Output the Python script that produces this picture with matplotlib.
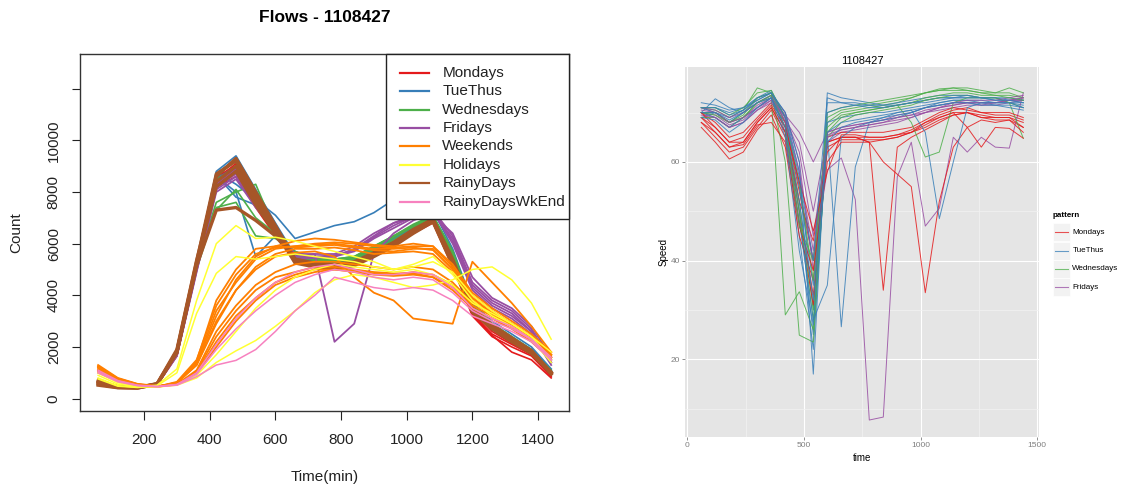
import matplotlib
matplotlib.use('Agg')
import matplotlib.pyplot as plt
from matplotlib.lines import Line2D
from matplotlib.patches import Rectangle
from matplotlib.ticker import FixedLocator

plt.rcParams['font.family'] = ['Liberation Sans', 'DejaVu Sans']

# ---------------- data ----------------
times = [60, 120, 180, 240, 300, 360, 420, 480, 540, 600, 660, 720,
         780, 840, 900, 960, 1020, 1080, 1140, 1200, 1260, 1320, 1380, 1440]

flow_labels = ['Mondays', 'TueThus', 'Wednesdays', 'Fridays', 'Weekends',
               'Holidays', 'RainyDays', 'RainyDaysWkEnd']

flow_mondays = [
    [620, 440, 410, 530, 1650, 5000, 8300, 8900, 7600, 6400, 5300, 5150, 5100, 5200, 5500, 5900, 6400, 6800, 5100, 3200, 2400, 2000, 1650, 850],
    [700, 460, 420, 550, 1750, 5150, 8500, 9100, 7800, 6600, 5400, 5250, 5200, 5300, 5650, 6050, 6550, 6950, 5300, 3300, 2500, 2100, 1700, 900],
    [760, 480, 430, 560, 1800, 5250, 8600, 9000, 7700, 6500, 5450, 5300, 5250, 5350, 5700, 6100, 6600, 7000, 5400, 3400, 2600, 2150, 1750, 950],
    [680, 450, 420, 540, 1700, 5050, 8200, 8600, 7400, 6300, 5350, 5200, 5150, 5250, 5550, 5950, 6450, 6850, 5200, 3250, 2450, 1800, 1500, 800],
]
flow_tuethus = [
    [660, 450, 420, 550, 1780, 5200, 8700, 9300, 8000, 6700, 5500, 5350, 5300, 5400, 5800, 6200, 6700, 7050, 5700, 3600, 2900, 2400, 1900, 1100],
    [720, 470, 440, 570, 1800, 5300, 8800, 9400, 8100, 6800, 5550, 5400, 5350, 5450, 5850, 6250, 6700, 7000, 5650, 3550, 2850, 2350, 1850, 1050],
    [700, 460, 430, 560, 1780, 5250, 8750, 8300, 7700, 7100, 6200, 6450, 6700, 6850, 7200, 7700, 7600, 7300, 5800, 3700, 3000, 2500, 2000, 1150],
    [690, 460, 430, 560, 1750, 5150, 8600, 8000, 5500, 6300, 5700, 5400, 5350, 5450, 5800, 6200, 6650, 7000, 5600, 3500, 2850, 2350, 1900, 1100],
    [640, 440, 410, 540, 1720, 5100, 8500, 9000, 7850, 6600, 5450, 5300, 5250, 5350, 5750, 6150, 6650, 7050, 5650, 3550, 2850, 2350, 1850, 1050],
    [700, 460, 430, 560, 1760, 5200, 8650, 7800, 7500, 6500, 5500, 5350, 5300, 5400, 5800, 6200, 6700, 7000, 5600, 3500, 2800, 2300, 1900, 1100],
]
flow_wednesdays = [
    [680, 460, 430, 550, 1760, 5150, 8650, 9200, 7900, 6700, 5500, 5400, 5400, 5500, 5900, 6300, 6750, 7100, 5700, 3600, 2900, 2400, 1900, 1050],
    [700, 470, 430, 560, 1800, 5200, 7600, 8000, 8300, 6500, 5600, 5350, 5350, 5450, 5850, 6250, 6650, 7000, 5600, 3500, 2800, 2300, 1850, 1100],
    [690, 450, 420, 550, 1700, 5000, 7400, 7600, 6300, 6200, 5700, 5400, 5300, 5400, 5750, 6150, 6550, 6950, 5500, 3400, 2700, 2250, 1800, 1000],
    [660, 450, 420, 540, 1720, 5100, 8500, 8900, 7800, 6600, 5500, 5350, 5350, 5450, 5850, 6250, 6700, 7050, 5650, 3550, 2850, 2350, 1850, 1050],
    [710, 470, 440, 560, 1780, 5200, 7300, 8100, 7000, 6400, 5500, 5400, 5400, 5500, 5900, 6300, 6700, 7050, 5700, 3600, 2900, 2350, 1850, 1050],
]
flow_fridays = [
    [700, 480, 440, 560, 1700, 5000, 8300, 8800, 7600, 6500, 5500, 5500, 5500, 5700, 6200, 6600, 7000, 7300, 6300, 4500, 3800, 3400, 2700, 1400],
    [650, 460, 420, 540, 1650, 4900, 8100, 8600, 7500, 6400, 5400, 5450, 5500, 5800, 6300, 6800, 7100, 7200, 6200, 4400, 3700, 3300, 2600, 1500],
    [700, 470, 430, 560, 1700, 5000, 8200, 8700, 7500, 6400, 5500, 5600, 2200, 2900, 5600, 6400, 6900, 7200, 6100, 4300, 3600, 3200, 2600, 1400],
    [680, 470, 430, 550, 1680, 4950, 8000, 8500, 7400, 6500, 5600, 5600, 5600, 5900, 6400, 6800, 7000, 7100, 6400, 4700, 3900, 3500, 2800, 1600],
    [720, 480, 440, 560, 1720, 5050, 8250, 8900, 7700, 6600, 5500, 5500, 5550, 5750, 6250, 6700, 7050, 7250, 6000, 4200, 3500, 3100, 2500, 1300],
]
flow_weekends = [
    [1100, 700, 520, 460, 650, 1500, 3600, 4800, 5600, 5850, 5900, 6000, 6050, 6000, 5900, 5850, 5900, 5900, 5100, 4000, 3400, 2900, 2400, 1700],
    [1200, 750, 540, 470, 620, 1400, 3400, 4500, 5400, 5800, 5900, 5950, 6000, 5900, 5800, 5800, 5850, 5750, 5000, 3900, 3300, 2800, 2300, 1600],
    [1000, 680, 500, 450, 600, 1350, 3200, 4600, 5500, 5900, 6100, 6200, 6150, 6050, 5950, 5900, 6000, 5900, 5200, 4100, 3500, 3000, 2500, 1800],
    [1150, 720, 520, 460, 620, 1300, 3000, 4200, 5100, 5600, 5800, 5800, 5850, 5750, 5600, 5650, 5700, 5600, 4900, 3800, 3200, 2800, 2300, 1700],
    [1050, 700, 510, 450, 600, 1450, 3800, 5000, 5800, 5900, 5850, 5900, 5950, 5850, 5750, 5700, 5800, 5800, 5000, 3900, 3300, 2850, 2350, 1650],
    [1250, 780, 560, 480, 560, 1000, 2200, 3200, 3900, 4500, 4800, 5000, 5000, 4900, 4800, 4750, 4800, 4700, 4300, 3600, 3200, 2800, 2300, 1600],
    [1200, 760, 550, 470, 540, 950, 2000, 3000, 3800, 4400, 4700, 4900, 5000, 4950, 4850, 4800, 4900, 4800, 4400, 3700, 3300, 2900, 2400, 1700],
    [1300, 800, 570, 490, 560, 1050, 2400, 3400, 4200, 4700, 4900, 5100, 5100, 5000, 4900, 4850, 4850, 4700, 4200, 3500, 3100, 2700, 2200, 1500],
    [1100, 700, 520, 460, 600, 1300, 2900, 4200, 5000, 5500, 5650, 5700, 5500, 4700, 4100, 3800, 3100, 3000, 2900, 5300, 4500, 3700, 2800, 1800],
    [1250, 770, 550, 470, 550, 1100, 2600, 3600, 4400, 4900, 5200, 5300, 5300, 5200, 5100, 5000, 5100, 5000, 4500, 3700, 3300, 2900, 2300, 1600],
]
flow_holidays = [
    [800, 500, 440, 520, 1150, 3800, 6000, 6700, 6200, 6250, 6100, 5900, 5700, 5500, 5300, 5000, 5100, 5300, 4900, 4000, 3400, 2900, 2400, 1500],
    [760, 480, 430, 500, 1000, 3300, 4850, 5500, 5400, 5500, 5600, 5500, 5400, 5300, 5100, 5000, 5200, 5500, 4800, 3800, 3200, 2800, 2300, 1400],
    [900, 560, 460, 450, 520, 800, 1400, 1850, 2250, 2800, 3400, 4100, 4600, 4800, 4700, 4500, 4300, 4400, 4600, 5000, 5100, 4600, 3700, 2300],
    [1000, 620, 480, 450, 540, 900, 1700, 2600, 3500, 4200, 4700, 5000, 5200, 5100, 5000, 4900, 5000, 4800, 4400, 3700, 3300, 2900, 2400, 1800],
]
flow_rainydays = [
    [520, 420, 410, 560, 1800, 5200, 8600, 9300, 8000, 6700, 5400, 5200, 5150, 5250, 5600, 6000, 6500, 6950, 5300, 3500, 2800, 2300, 1850, 1000],
    [600, 440, 420, 570, 1850, 5300, 8700, 9200, 7900, 6600, 5300, 5150, 5100, 5200, 5550, 5950, 6450, 6900, 5200, 3400, 2750, 2250, 1800, 950],
    [650, 450, 430, 580, 1900, 5350, 8400, 9000, 7700, 6500, 5250, 5100, 5050, 5150, 5500, 5900, 6400, 6850, 5150, 3350, 2700, 2200, 1750, 980],
    [560, 430, 410, 560, 1820, 5250, 8200, 8800, 7500, 6400, 5350, 5200, 5150, 5250, 5600, 6000, 6500, 6900, 5250, 3450, 2800, 2300, 1800, 1020],
    [680, 460, 430, 570, 1780, 5150, 7300, 7400, 6900, 6300, 5400, 5250, 5200, 5300, 5650, 6050, 6550, 6950, 5400, 3500, 2850, 2350, 1850, 1000],
]
flow_rainywkend = [
    [1000, 650, 500, 460, 520, 850, 1300, 1480, 1900, 2600, 3400, 4000, 4700, 4500, 4300, 4200, 4300, 4200, 3800, 3200, 2900, 2600, 2200, 1500],
    [1100, 700, 520, 470, 550, 950, 1900, 2700, 3400, 4000, 4500, 4800, 5000, 4900, 4700, 4600, 4700, 4600, 4100, 3400, 3000, 2700, 2300, 1600],
    [1050, 680, 510, 460, 540, 1000, 2100, 3100, 3900, 4500, 4900, 5100, 5200, 5000, 4800, 4800, 4900, 4800, 4300, 3500, 3100, 2800, 2300, 1500],
]

speed_labels = ['Mondays', 'TueThus', 'Wednesdays', 'Fridays']

speed_mondays = [
    [69, 67, 64, 64, 68, 71, 66, 50, 33, 64, 65, 65, 65, 65, 65.5, 66, 67.5, 69, 70, 70, 69.5, 69, 69, 68],
    [68, 65, 62, 63, 67, 70.5, 65, 48, 31, 63, 64.5, 64.5, 64.5, 64.5, 65, 66, 67, 68.5, 69.5, 70, 69, 68.5, 68.5, 67],
    [70, 68, 65, 66, 69, 72, 68, 54, 40, 65, 66, 66, 66, 66, 66.5, 67, 68.5, 70, 71, 70.5, 70, 69.5, 69.5, 68.5],
    [67, 64, 60.6, 62, 66.5, 69.5, 63, 45, 36, 64, 65, 65, 64, 34, 63, 65, 66.5, 68, 69.5, 70, 69, 69, 69, 67],
    [69, 66, 63, 64, 68, 71, 66, 52, 44, 62, 65, 65, 64, 60, 57.5, 55, 33.5, 52, 63, 67, 68.5, 68, 68.5, 66],
    [68, 66, 63, 63.5, 67.5, 68, 64, 47, 38, 60, 64, 64, 64, 64.5, 65, 66, 68, 69, 70, 67, 63, 67, 66.8, 64.8],
    [70, 67, 64, 65, 68.5, 71.5, 67, 56, 46, 58, 65.5, 65.5, 65, 65, 65.5, 66.5, 68, 69.5, 70.5, 71, 70, 70, 70, 69],
]
speed_tuethus = [
    [71, 71, 70, 71, 72.5, 74, 70, 58, 30, 72, 72, 72, 71.5, 71, 71.5, 72, 72.5, 73, 73, 73, 73, 72.5, 72.5, 72.5],
    [70, 72.8, 71, 70, 72, 73.5, 68, 50, 25, 74, 73, 72.5, 72, 71.5, 71.5, 72, 72.5, 73, 73, 73.5, 73, 73, 72.5, 72],
    [69, 70, 68, 70, 72, 73.5, 66, 45, 22, 68, 69, 69.5, 70, 70, 70.5, 71, 71.5, 72, 72.5, 72.5, 72, 72, 72, 71.5],
    [71, 70, 69, 70.5, 73, 74.5, 69, 55, 35, 66, 26.6, 59, 68, 69, 70, 70.5, 71, 72, 72.5, 72.5, 72.5, 72, 72, 72],
    [70, 69, 67, 69, 71, 73, 67, 48, 28, 35, 65, 67, 68, 68.5, 69, 70, 71, 71.5, 72, 72, 72, 71.5, 71.5, 71],
    [72, 71.5, 70.5, 71, 73, 74, 70, 60, 17, 70, 71, 71.5, 71.5, 71.5, 72, 72.5, 73, 73.5, 73.5, 73.5, 73, 73, 73, 72.5],
    [70, 70, 68.5, 70, 72, 73, 67, 52, 32, 66, 68, 68.5, 69, 69.5, 70, 70.5, 66, 48.5, 60, 71, 72, 72, 72, 71],
    [71, 71, 69.5, 70.5, 72.5, 74, 69, 57, 40, 73, 72, 71.5, 71, 71, 71.5, 72, 72, 72.5, 73, 73, 73, 72.5, 72.5, 72],
    [69, 68.5, 66, 68, 71, 73, 65, 42, 27, 64, 67, 68, 68.5, 69, 69.5, 70, 71, 71.5, 72, 72, 71.5, 71.5, 71, 70.5],
]
speed_wednesdays = [
    [70, 70, 68, 70, 73, 74, 69, 52, 30, 69, 70.5, 71, 71.5, 72, 72.5, 73, 74, 74.5, 74.5, 74.5, 74, 73.5, 73.5, 73],
    [71, 70.5, 69, 70.5, 75, 74, 68, 50, 28, 68, 70, 70.5, 71, 71.5, 72, 73, 74, 74.8, 75, 74.5, 74, 74, 74, 73],
    [69, 69, 67, 69, 72, 73, 29, 33.7, 26, 65, 68, 69.5, 70, 70.5, 71, 71.5, 72.5, 73, 73.5, 73.5, 73, 73, 72, 71],
    [70, 70, 68, 69.5, 73, 74, 60, 24.9, 23.5, 66, 69, 70, 70.5, 71, 71.5, 68, 61, 62, 72, 73, 73, 73, 72, 64.8],
    [71, 71, 69.5, 71, 74, 74.5, 69, 56, 36, 70, 71, 71.5, 72, 72.5, 73, 73.5, 74, 74.5, 75, 75, 74.5, 74, 75, 74],
    [70, 69.5, 68, 69, 72, 73.5, 67, 47, 40, 67, 69.5, 70, 70.5, 71, 71.5, 72, 73, 73.5, 74, 74, 73.5, 73.5, 73, 72.5],
]
speed_fridays = [
    [71, 70, 68, 69, 71.5, 73, 69.5, 66, 60, 66, 67, 67.5, 68, 68.5, 69, 69.5, 70, 71, 71.5, 72, 72, 72, 72.5, 73],
    [70, 69.5, 67.5, 68.5, 71, 72.5, 69, 62, 45, 64, 66, 66.5, 67, 67.5, 68, 69, 70, 70.5, 71, 71.5, 71.5, 71.5, 72, 72.5],
    [70, 69, 67, 68, 70.5, 72, 68, 55, 40, 58.4, 60.8, 52.4, 7.7, 8.3, 57, 64, 47, 50.6, 65, 62, 65, 63, 62.8, 74],
    [71, 70.5, 69, 70, 72, 73.5, 70, 60, 38, 66, 67, 67.5, 68, 68.5, 69.5, 70, 71, 71.5, 72, 72.5, 72.5, 72.5, 73, 73.5],
    [69.5, 69, 67, 68, 70.5, 72.5, 68.5, 64, 50, 65, 66.5, 67, 67.5, 68, 68.5, 69, 70, 71, 72, 72, 71.5, 72, 72.5, 72.5],
    [70.5, 70, 68, 69, 71, 73, 69, 58, 42, 65.5, 66.5, 67, 67.5, 68, 69, 69.5, 70.5, 71, 71.5, 72, 72, 72, 72.5, 73],
]

flow_ticks = [0, 2000, 4000, 6000, 8000, 10000, 12000]
flow_tick_labels = ['0', '2000', '4000', '6000', '8000', '10000', '']
time_ticks = [200, 400, 600, 800, 1000, 1200, 1400]
speed_ticks = [20, 40, 60]
speed_time_ticks = [0, 500, 1000, 1500]

# ---------------- style ----------------
set1 = {'Mondays': '#E41A1C', 'TueThus': '#377EB8', 'Wednesdays': '#4DAF4A',
        'Fridays': '#984EA3', 'Weekends': '#FF7F00', 'Holidays': '#FFFF33',
        'RainyDays': '#A65628', 'RainyDaysWkEnd': '#F781BF'}

W, H = 1127, 488
fig = plt.figure(figsize=(W / 100, H / 100), dpi=100)
fig.patch.set_facecolor('white')


def fx(x):
    return x / W


def fy(y):
    return 1 - y / H


# ---------------- left panel (base R style) ----------------
L, R_, T, B = 80, 569.3, 54, 411.3
ax1 = fig.add_axes([fx(L), fy(B), (R_ - L) / W, (B - T) / H])
ax1.set_xlim(4.8, 1495.2)
ax1.set_ylim(-492, 13345)

draw_order = [
    ('Mondays', flow_mondays, 1.2),
    ('TueThus', flow_tuethus, 1.2),
    ('Wednesdays', flow_wednesdays, 1.2),
    ('Fridays', flow_fridays, 1.3),
    ('RainyDays', flow_rainydays, 2.4),
    ('Weekends', flow_weekends, 1.3),
    ('Holidays', flow_holidays, 1.1),
    ('RainyDaysWkEnd', flow_rainywkend, 1.1),
]
for name, series, lw in draw_order:
    for vals in series:
        ax1.plot(times, vals, color=set1[name], lw=lw, solid_joinstyle='round')

ax1.set_xticks(time_ticks)
ax1.set_yticks(flow_ticks)
ax1.set_yticklabels(flow_tick_labels, rotation=90, va='center')
ax1.tick_params(axis='x', length=6.5, width=0.8, pad=9, labelsize=11, colors='#222222')
ax1.tick_params(axis='y', length=5.8, width=0.8, pad=8, labelsize=11, colors='#222222')
for s in ax1.spines.values():
    s.set_color('#333333')
    s.set_linewidth(1.0)
ax1.text(0.5, -0.183, 'Time(min)', transform=ax1.transAxes, ha='center',
         va='center', fontsize=11, color='#222222')
ax1.text(-0.1294, 0.5, 'Count', transform=ax1.transAxes, ha='center',
         va='center', rotation=90, fontsize=11, color='#222222')
ax1.text(0.5, 1.1027, 'Flows - 1108427', transform=ax1.transAxes, ha='center',
         va='center', fontsize=12.5, fontweight='bold')

# legend (base R style box)
fig.add_artist(Rectangle((fx(386), fy(219.3)), (569.3 - 386) / W, (219.3 - 54) / H,
                         transform=fig.transFigure, facecolor='white',
                         edgecolor='#222222', lw=1.0, zorder=5))
for i, name in enumerate(flow_labels):
    yy = 72.7 + i * 18.43
    fig.add_artist(Line2D([fx(400), fx(429.3)], [fy(yy), fy(yy)],
                          transform=fig.transFigure, color=set1[name], lw=1.6, zorder=6))
    fig.text(fx(442.3), fy(yy), name, fontsize=11, va='center', ha='left',
             color='#222222', zorder=6)

# ---------------- right panel (ggplot style) ----------------
L2, R2, T2, B2 = 685.2, 1039.4, 66.7, 437.3
ax2 = fig.add_axes([fx(L2), fy(B2), (R2 - L2) / W, (B2 - T2) / H])
ax2.set_xlim(-9, 1509)
ax2.set_ylim(4.2, 79.3)
ax2.set_facecolor('#E5E5E5')
for s in ax2.spines.values():
    s.set_visible(False)
ax2.set_xticks(speed_time_ticks)
ax2.set_yticks(speed_ticks)
ax2.xaxis.set_minor_locator(FixedLocator([250, 750, 1250]))
ax2.yaxis.set_minor_locator(FixedLocator([10, 30, 50, 70]))
ax2.grid(which='major', color='white', lw=0.8)
ax2.grid(which='minor', color='#F2F2F2', lw=0.5)
ax2.set_axisbelow(True)
ax2.tick_params(which='major', length=2.2, width=0.6, color='#7F7F7F',
                labelcolor='#7F7F7F', labelsize=6, pad=1.5)
ax2.tick_params(which='minor', length=0)

speed_groups = [('Mondays', speed_mondays), ('TueThus', speed_tuethus),
                ('Wednesdays', speed_wednesdays), ('Fridays', speed_fridays)]
nmax = max(len(g[1]) for g in speed_groups)
for i in range(nmax):
    for name, series in speed_groups:
        if i < len(series):
            ax2.plot(times, series[i], color=set1[name], lw=0.7, alpha=0.85)

ax2.text(0.5, -0.055, 'time', transform=ax2.transAxes, ha='center',
         va='center', fontsize=7)
ax2.text(-0.0618, 0.5, 'Speed', transform=ax2.transAxes, ha='center',
         va='center', rotation=90, fontsize=7)
ax2.set_title('1108427', fontsize=8, pad=2)

# ggplot-style legend
fig.text(fx(1052.7), fy(215), 'pattern', fontsize=5.8, fontweight='bold',
         va='center', ha='left')
for i, name in enumerate(speed_labels):
    yc = 232.3 + i * 18.35
    fig.add_artist(Rectangle((fx(1053), fy(yc + 9)), 17 / W, 18 / H,
                             transform=fig.transFigure, facecolor='#F2F2F2',
                             edgecolor='white', lw=0.5, zorder=5))
    fig.add_artist(Line2D([fx(1055), fx(1068)], [fy(yc), fy(yc)],
                          transform=fig.transFigure, color=set1[name], lw=0.8,
                          alpha=0.75, zorder=6))
    fig.text(fx(1072.3), fy(yc), name, fontsize=5.8, va='center', ha='left', zorder=6)

fig.savefig('out.png', dpi=100)
